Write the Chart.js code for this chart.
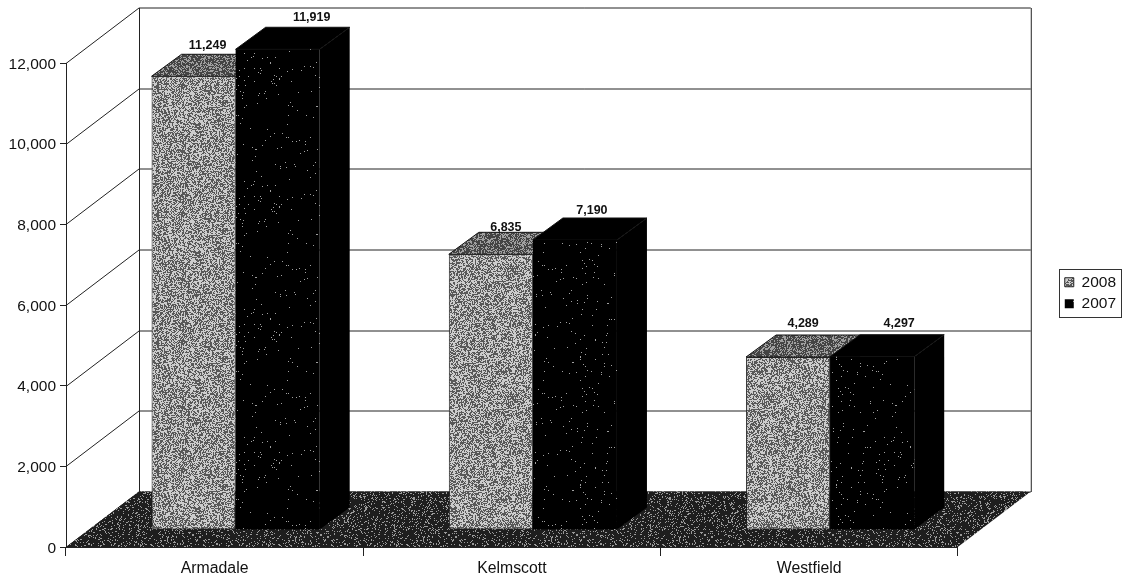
<!DOCTYPE html>
<html>
<head>
<meta charset="utf-8">
<style>html,body{margin:0;padding:0;background:#fff}canvas{display:block}</style>
<script src="https://cdn.jsdelivr.net/npm/chart.js@4"></script>
</head>
<body>
<canvas id="c" width="1124" height="583"></canvas>
<script>
const categories = ['Armadale', 'Kelmscott', 'Westfield'];
const seriesNames = ['2008', '2007'];
const values2008 = [11249, 6835, 4289];
const values2007 = [11919, 7190, 4297];

// 3D projection styling (pixels)
const WALL_DX = 73, WALL_DY = -55.5;   // depth of chart box
const FRONT_DX = 21, FRONT_DY = -17;   // bar front plane relative to the axis plane
const BAR_DX = 30, BAR_DY = -22;       // depth of a bar
const labelNudge2008 = [[-1,-9],[0,-5],[0,-11]];
const labelNudge2007 = [[19,-10],[2,-7],[12,-11]];

function stipple(density, fg, bg, seed) {
  const n = 128, t = document.createElement('canvas');
  t.width = t.height = n;
  const g = t.getContext('2d');
  g.fillStyle = bg; g.fillRect(0, 0, n, n);
  g.fillStyle = fg;
  let s = seed;
  for (let y = 0; y < n; y++) for (let x = 0; x < n; x++) {
    s = (s * 1103515245 + 12345) & 0x7fffffff;
    if (((s >> 12) % 1000) / 1000 < density) g.fillRect(x, y, 1, 1);
  }
  return g.createPattern(t, 'repeat');
}
const front2008 = stipple(0.5, '#cccccc', '#585858', 11);
const top2008 = stipple(0.38, '#a0a0a0', '#444444', 29);
const front2007 = stipple(0.012, '#a0a0a0', '#000000', 47);
const floorFill = stipple(0.16, '#9a9a9a', '#1e1e1e', 71);

const faceColors = [
  { top: top2008, side: '#222222' },
  { top: '#000000', side: '#000000' }
];

function poly(ctx, pts, fill, stroke) {
  ctx.beginPath();
  pts.forEach((p, i) => i ? ctx.lineTo(p[0], p[1]) : ctx.moveTo(p[0], p[1]));
  ctx.closePath();
  if (fill) { ctx.fillStyle = fill; ctx.fill(); }
  if (stroke) { ctx.strokeStyle = stroke; ctx.lineWidth = 1; ctx.stroke(); }
}

const depthPlugin = {
  id: 'depth',
  beforeDatasetsDraw(chart) {
    const ctx = chart.ctx, a = chart.chartArea, y = chart.scales.y;
    const L = a.left, R = a.right;
    const base = y.getPixelForValue(0);
    ctx.save();
    ctx.strokeStyle = '#222'; ctx.lineWidth = 1;
    y.ticks.forEach(t => {
      const py = Math.round(y.getPixelForValue(t.value)) + 0.5;
      ctx.beginPath();
      ctx.moveTo(L, py);
      ctx.lineTo(L + WALL_DX, py + WALL_DY);
      ctx.lineTo(R + WALL_DX, py + WALL_DY);
      ctx.stroke();
    });
    const topY = Math.round(y.getPixelForValue(12000)) + 0.5 + WALL_DY;
    const botY = Math.round(base) + 0.5 + WALL_DY;
    ctx.beginPath();
    ctx.moveTo(L + WALL_DX + 0.5, topY); ctx.lineTo(L + WALL_DX + 0.5, botY);
    ctx.moveTo(R + WALL_DX + 0.5, topY); ctx.lineTo(R + WALL_DX + 0.5, botY);
    ctx.stroke();
    poly(ctx, [[L, base], [L + WALL_DX, base + WALL_DY], [R + WALL_DX, base + WALL_DY], [R, base]], floorFill);
    [0, 1].forEach(i => {
      const meta = chart.getDatasetMeta(i);
      ctx.save();
      ctx.translate(FRONT_DX, FRONT_DY);
      meta.data.forEach(el => {
        const l = el.x - el.width / 2, r = el.x + el.width / 2;
        poly(ctx, [[r, el.y], [r + BAR_DX, el.y + BAR_DY], [r + BAR_DX, el.base + BAR_DY], [r, el.base]], faceColors[i].side);
        poly(ctx, [[l, el.y], [l + BAR_DX, el.y + BAR_DY], [r + BAR_DX, el.y + BAR_DY], [r, el.y]], faceColors[i].top, '#111');
      });
      meta.controller.draw();
      ctx.restore();
    });
    ctx.fillStyle = '#111';
    ctx.font = 'bold 12.5px "Liberation Sans", Arial, sans-serif';
    ctx.textAlign = 'center'; ctx.textBaseline = 'middle';
    [labelNudge2008, labelNudge2007].forEach((nudge, i) => {
      const meta = chart.getDatasetMeta(i);
      meta.data.forEach((el, k) => {
        const v = chart.data.datasets[i].data[k];
        ctx.fillText(v.toLocaleString('en-US'),
          el.x + FRONT_DX + BAR_DX / 2 + nudge[k][0],
          el.y + FRONT_DY + BAR_DY + nudge[k][1]);
      });
    });
    ctx.restore();
    return false;
  },
  afterDraw(chart) {
    const lg = chart.legend, ctx = chart.ctx;
    const boxes = lg.legendHitBoxes;
    const top = Math.round(boxes[0].top) - 5.5;
    const bottom = Math.round(boxes[boxes.length - 1].top + boxes[boxes.length - 1].height) + 5.5;
    ctx.save();
    ctx.strokeStyle = '#333'; ctx.lineWidth = 1;
    ctx.strokeRect(Math.round(lg.left) + 0.5, top, 62, bottom - top);
    ctx.restore();
  }
};

new Chart(document.getElementById('c'), {
  type: 'bar',
  data: {
    labels: categories,
    datasets: [
      { label: seriesNames[0], data: values2008, backgroundColor: front2008, borderColor: '#222', borderWidth: 1, borderSkipped: false, xAxisID: 'x', yAxisID: 'y' },
      { label: seriesNames[1], data: values2007, backgroundColor: front2007, borderColor: '#000', borderWidth: 0, borderSkipped: false, xAxisID: 'x', yAxisID: 'y' }
    ]
  },
  options: {
    responsive: false,
    devicePixelRatio: 1,
    animation: false,
    layout: { padding: { top: 3, right: -2, bottom: 0, left: 0 } },
    datasets: { bar: { barPercentage: 1, categoryPercentage: 168 / 297 } },
    plugins: {
      tooltip: { enabled: false },
      title: { display: false },
      legend: {
        position: 'right',
        labels: {
          boxWidth: 9, boxHeight: 9, padding: 6, color: '#111',
          font: { size: 15.5, family: '"Liberation Sans", Arial, sans-serif' }
        }
      }
    },
    scales: {
      x: {
        type: 'category', position: 'bottom', offset: true,
        grid: { offset: true, drawOnChartArea: false, drawTicks: true, tickLength: 9, color: '#222' },
        border: { display: true, color: '#222' },
        ticks: { color: '#111', padding: 3, maxRotation: 0, font: { size: 15.8, family: '"Liberation Sans", Arial, sans-serif' } },
        afterFit: s => { s.height = 36; }
      },
      y: {
        type: 'linear', position: 'left', min: 0, max: 12000,
        grid: { drawOnChartArea: false, drawTicks: true, tickLength: 6, color: '#222' },
        border: { display: true, color: '#222' },
        ticks: {
          stepSize: 2000, color: '#111', padding: 4, labelOffset: 1.5,
          font: { size: 15.5, family: '"Liberation Sans", Arial, sans-serif' },
          callback: v => v.toLocaleString('en-US')
        },
        afterFit: s => { s.width = 66; }
      },
      spacerTop: {
        type: 'linear', axis: 'x', position: 'top', display: true,
        grid: { display: false }, border: { display: false }, ticks: { display: false },
        afterFit: s => { s.height = 60; }
      },
      spacerRight: {
        type: 'linear', axis: 'y', position: 'right', display: true,
        grid: { display: false }, border: { display: false }, ticks: { display: false },
        afterFit: s => { s.width = 101; }
      }
    }
  },
  plugins: [depthPlugin]
});
</script>
</body>
</html>
